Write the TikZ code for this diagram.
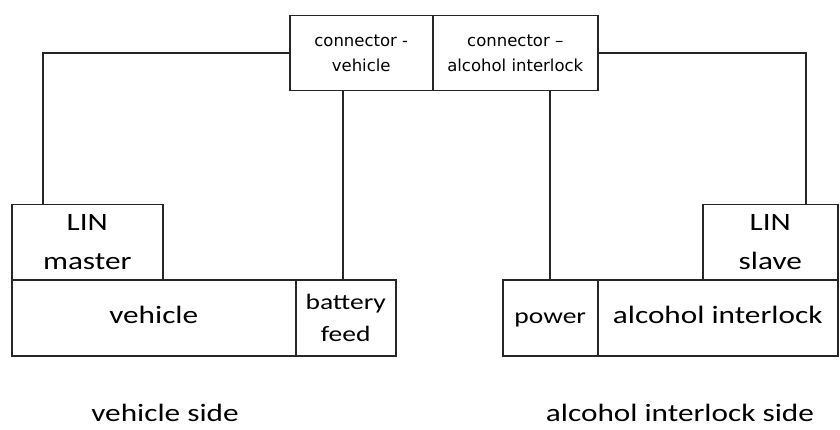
\documentclass[tikz,border=0pt]{standalone}
\usepackage{fontspec}
\setmainfont{Carlito}[FakeStretch=1.25]
\newfontfamily\confont{DejaVu Sans}
\begin{document}
\begin{tikzpicture}[x=1pt,y=-1pt,
  box/.style={draw=black!85, line width=1.5pt, anchor=north west, inner sep=0pt, align=center},
  one/.style={text height=17pt, text depth=5pt},
  wire/.style={draw=black!85, line width=1.7pt},
  big/.style={font=\fontsize{25}{39}\selectfont},
  mid/.style={font=\fontsize{22}{32}\selectfont},
  con/.style={font=\confont\fontsize{16.5}{25}\selectfont},
  side/.style={font=\fontsize{25}{30}\selectfont, inner sep=1pt}]
\useasboundingbox (0,0) rectangle (840,430);
\node[box, con, minimum width=143pt, minimum height=75pt] (conv) at (289,15) {connector -\\vehicle};
\node[box, con, minimum width=165pt, minimum height=75pt] (cona) at (432,15) {connector –\\alcohol interlock};
\node[box, big, minimum width=151pt, minimum height=75pt] (linm) at (11,204) {LIN\\master};
\node[box, big, one, minimum width=284pt, minimum height=76pt] (veh) at (11,279) {vehicle};
\node[box, mid, minimum width=100pt, minimum height=76pt] (batt) at (295,279) {battery\\feed};
\node[box, mid, one, minimum width=95pt, minimum height=76pt] (pow) at (502,279) {power};
\node[box, big, one, minimum width=240pt, minimum height=76pt] (alc) at (597,279) {alcohol interlock};
\node[box, big, minimum width=135pt, minimum height=75pt] (lins) at (702,204) {LIN\\slave};
\node[side] (vs) at (165,413) {vehicle side};
\node[side] (as) at (680,413) {alcohol interlock side};
\draw[wire] ([xshift=32pt]linm.north west) |- (conv.west);
\draw[wire] ([xshift=104pt]lins.north west) |- (cona.east);
\draw[wire] ([xshift=-3pt]batt.north) -- ([xshift=-3pt]batt.north |- conv.south);
\draw[wire] (pow.north) -- (pow.north |- cona.south);
\end{tikzpicture}
\end{document}
